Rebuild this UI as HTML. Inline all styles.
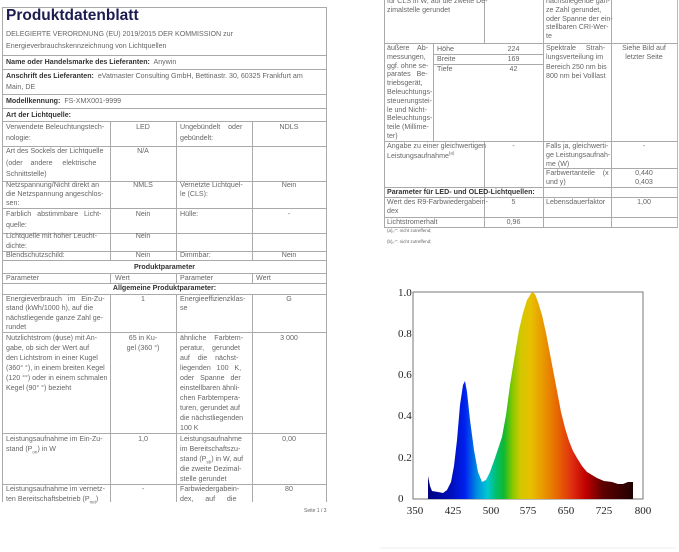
<!DOCTYPE html>
<html><head><meta charset="utf-8">
<style>
*{margin:0;padding:0;box-sizing:border-box}
body{width:679px;height:552px;background:#fff;position:relative;overflow:hidden;font-family:"Liberation Sans",sans-serif;color:#666;font-size:7.1px;line-height:12px}
.h{position:absolute;height:1px;background:#aaa}
.v{position:absolute;width:1px;background:#aaa}
.t{position:absolute;white-space:nowrap}
.c{text-align:center}
.b{font-weight:bold;color:#333}
sub,sup{font-size:4.5px;line-height:0}
</style></head><body>
<!-- LEFT PAGE -->
<div class="h" style="left:2px;top:7px;width:325px"></div>
<div class="v" style="left:2px;top:7px;height:495px"></div>
<div class="v" style="left:326px;top:7px;height:495px"></div>
<div class="t" style="left:6px;top:6px;font-size:15.5px;line-height:20px;font-weight:bold;color:#1c1c50">Produktdatenblatt</div>
<div class="t" style="left:6px;top:28px">DELEGIERTE VERORDNUNG (EU) 2019/2015 DER KOMMISSION zur</div>
<div class="t" style="left:6px;top:40px">Energieverbrauchskennzeichnung von Lichtquellen</div>
<div class="h" style="left:2px;top:55px;width:325px"></div>
<div class="t" style="left:6px;top:56px"><span class="b">Name oder Handelsmarke des Lieferanten:</span>&nbsp; Anywin</div>
<div class="h" style="left:2px;top:69px;width:325px"></div>
<div class="t" style="left:6px;top:70px"><span class="b">Anschrift des Lieferanten:</span>&nbsp; eVatmaster Consulting GmbH, Bettinastr. 30, 60325 Frankfurt am</div>
<div class="t" style="left:6px;top:81px">Main, DE</div>
<div class="h" style="left:2px;top:94px;width:325px"></div>
<div class="t" style="left:6px;top:95px"><span class="b">Modellkennung:</span>&nbsp; FS-XMX001-9999</div>
<div class="h" style="left:2px;top:108px;width:325px"></div>
<div class="t b" style="left:6px;top:109px">Art der Lichtquelle:</div>
<div class="h" style="left:2px;top:121px;width:325px"></div>
<div class="v" style="left:110px;top:121px;height:139px"></div>
<div class="v" style="left:176px;top:121px;height:139px"></div>
<div class="v" style="left:252px;top:121px;height:139px"></div>
<div class="t" style="left:6px;top:122px;line-height:11px">Verwendete Beleuchtungstech-<br>nologie:</div>
<div class="t c" style="left:110px;top:122px;width:66px;line-height:11px">LED</div>
<div class="t" style="left:180px;top:122px;line-height:11px">Ungebündelt &nbsp;&nbsp; oder<br>gebündelt:</div>
<div class="t c" style="left:252px;top:122px;width:74px;line-height:11px">NDLS</div>
<div class="h" style="left:2px;top:146px;width:325px"></div>
<div class="t" style="left:6px;top:146px;line-height:11.5px">Art des Sockels der Lichtquelle<br>(oder &nbsp;&nbsp; andere &nbsp;&nbsp;&nbsp; elektrische<br>Schnittstelle)</div>
<div class="t c" style="left:110px;top:146px;width:66px;line-height:11px">N/A</div>
<div class="h" style="left:2px;top:181px;width:325px"></div>
<div class="t" style="left:6px;top:181px;line-height:9.2px">Netzspannung/Nicht direkt an<br>die Netzspannung angeschlos-<br>sen:</div>
<div class="t c" style="left:110px;top:181px;width:66px;line-height:9.2px">NMLS</div>
<div class="t" style="left:180px;top:181px;line-height:9.2px">Vernetzte Lichtquel-<br>le (CLS):</div>
<div class="t c" style="left:252px;top:181px;width:74px;line-height:9.2px">Nein</div>
<div class="h" style="left:2px;top:208px;width:325px"></div>
<div class="t" style="left:6px;top:209px;line-height:11px">Farblich &nbsp; abstimmbare &nbsp; Licht-<br>quelle:</div>
<div class="t c" style="left:110px;top:209px;width:66px;line-height:11px">Nein</div>
<div class="t" style="left:180px;top:209px;line-height:11px">Hülle:</div>
<div class="t c" style="left:252px;top:209px;width:74px;line-height:11px">-</div>
<div class="h" style="left:2px;top:233px;width:325px"></div>
<div class="t" style="left:6px;top:232px;line-height:9.5px">Lichtquelle mit hoher Leucht-<br>dichte:</div>
<div class="t c" style="left:110px;top:232px;width:66px;line-height:9.5px">Nein</div>
<div class="h" style="left:2px;top:251px;width:325px"></div>
<div class="t" style="left:6px;top:250px;line-height:10px">Blendschutzschild:</div>
<div class="t c" style="left:110px;top:250px;width:66px;line-height:10px">Nein</div>
<div class="t" style="left:180px;top:250px;line-height:10px">Dimmbar:</div>
<div class="t c" style="left:252px;top:250px;width:74px;line-height:10px">Nein</div>
<div class="h" style="left:2px;top:260px;width:325px"></div>
<div class="t c b" style="left:2px;top:261px;width:325px;line-height:12px">Produktparameter</div>
<div class="h" style="left:2px;top:273px;width:325px"></div>
<div class="v" style="left:110px;top:273px;height:10px"></div>
<div class="v" style="left:176px;top:273px;height:10px"></div>
<div class="v" style="left:252px;top:273px;height:10px"></div>
<div class="t" style="left:6px;top:273px;line-height:10px">Parameter</div>
<div class="t" style="left:115px;top:273px;line-height:10px">Wert</div>
<div class="t" style="left:180px;top:273px;line-height:10px">Parameter</div>
<div class="t" style="left:256px;top:273px;line-height:10px">Wert</div>
<div class="h" style="left:2px;top:283px;width:325px"></div>
<div class="t c b" style="left:2px;top:283px;width:325px;line-height:11px">Allgemeine Produktparameter:</div>
<div class="h" style="left:2px;top:294px;width:325px"></div>
<div class="v" style="left:110px;top:294px;height:208px"></div>
<div class="v" style="left:176px;top:294px;height:208px"></div>
<div class="v" style="left:252px;top:294px;height:208px"></div>
<div class="t" style="left:6px;top:295px;line-height:9.3px">Energieverbrauch &nbsp; im &nbsp; Ein-Zu-<br>stand (kWh/1000 h), auf die<br>nächstliegende ganze Zahl ge-<br>rundet</div>
<div class="t c" style="left:110px;top:295px;width:66px;line-height:9.3px">1</div>
<div class="t" style="left:180px;top:295px;line-height:9.3px">Energieeffizienzklas-<br>se</div>
<div class="t c" style="left:252px;top:295px;width:74px;line-height:9.3px">G</div>
<div class="h" style="left:2px;top:332px;width:325px"></div>
<div class="t" style="left:6px;top:333px;line-height:10px">Nutzlichtstrom (ϕuse) mit An-<br>gabe, ob sich der Wert auf<br>den Lichtstrom in einer Kugel<br>(360° °), in einem breiten Kegel<br>(120 °°) oder in einem schmalen<br>Kegel (90° °) bezieht</div>
<div class="t c" style="left:110px;top:333px;width:66px;line-height:10px">65 in Ku-<br>gel (360 °)</div>
<div class="t" style="left:180px;top:333px;line-height:10px">ähnliche &nbsp;&nbsp; Farbtem-<br>peratur, &nbsp;&nbsp; gerundet<br>auf &nbsp;&nbsp; die &nbsp;&nbsp; nächst-<br>liegenden &nbsp; 100 &nbsp; K,<br>oder &nbsp; Spanne &nbsp; der<br>einstellbaren ähnli-<br>chen Farbtempera-<br>turen, gerundet auf<br>die nächstliegenden<br>100 K</div>
<div class="t c" style="left:252px;top:333px;width:74px;line-height:10px">3 000</div>
<div class="h" style="left:2px;top:433px;width:325px"></div>
<div class="t" style="left:6px;top:434px;line-height:10px">Leistungsaufnahme im Ein-Zu-<br>stand (P<sub>on</sub>) in W</div>
<div class="t c" style="left:110px;top:434px;width:66px;line-height:10px">1,0</div>
<div class="t" style="left:180px;top:434px;line-height:10px">Leistungsaufnahme<br>im Bereitschaftszu-<br>stand (P<sub>sb</sub>) in W, auf<br>die zweite Dezimal-<br>stelle gerundet</div>
<div class="t c" style="left:252px;top:434px;width:74px;line-height:10px">0,00</div>
<div class="h" style="left:2px;top:484px;width:325px"></div>
<div class="t" style="left:6px;top:485px;line-height:9.5px">Leistungsaufnahme im vernetz-<br>ten Bereitschaftsbetrieb (P<sub>net</sub>)</div>
<div class="t c" style="left:110px;top:485px;width:66px;line-height:9.5px">-</div>
<div class="t" style="left:180px;top:485px;line-height:9.5px">Farbwiedergabein-<br>dex, &nbsp;&nbsp;&nbsp;&nbsp; auf &nbsp;&nbsp;&nbsp;&nbsp; die</div>
<div class="t c" style="left:252px;top:485px;width:74px;line-height:9.5px">80</div>
<div class="t" style="left:304px;top:505px;font-size:5px">Seite 1 / 3</div>

<!-- RIGHT PAGE -->
<div class="v" style="left:384px;top:0;height:228px"></div>
<div class="v" style="left:677px;top:0;height:228px;background:#bbb"></div>
<div class="v" style="left:484px;top:0;height:43px"></div>
<div class="v" style="left:543px;top:0;height:228px"></div>
<div class="v" style="left:611px;top:0;height:228px"></div>
<div class="t" style="left:387px;top:-3px;line-height:9px">für CLS in W, auf die zweite De-<br>zimalstelle gerundet</div>
<div class="t" style="left:546px;top:-3px;line-height:8.8px">nächstliegende gan-<br>ze Zahl gerundet,<br>oder Spanne der ein-<br>stellbaren CRI-Wer-<br>te</div>
<div class="h" style="left:384px;top:43px;width:294px"></div>
<div class="v" style="left:433px;top:43px;height:98px"></div>
<div class="t" style="left:387px;top:44px;line-height:8.8px">äußere &nbsp;&nbsp; Ab-<br>messungen,<br>ggf. ohne se-<br>parates &nbsp; Be-<br>triebsgerät,<br>Beleuchtungs-<br>steuerungstei-<br>le und Nicht-<br>Beleuchtungs-<br>teile (Millime-<br>ter)</div>
<div class="t" style="left:437px;top:44px;line-height:10px">Höhe<br>Breite<br>Tiefe</div>
<div class="t c" style="left:484px;top:44px;width:59px;line-height:10px">224<br>169<br>42</div>
<div class="h" style="left:433px;top:54px;width:110px"></div>
<div class="h" style="left:433px;top:64px;width:110px"></div>
<div class="t" style="left:546px;top:44px;line-height:9.3px">Spektrale &nbsp;&nbsp;&nbsp; Strah-<br>lungsverteilung im<br>Bereich 250 nm bis<br>800 nm bei Volllast</div>
<div class="t c" style="left:611px;top:44px;width:66px;line-height:9.3px">Siehe Bild auf<br>letzter Seite</div>
<div class="h" style="left:384px;top:141px;width:294px"></div>
<div class="v" style="left:484px;top:141px;height:87px"></div>
<div class="t" style="left:387px;top:142px;line-height:9.5px">Angabe zu einer gleichwertigen<br>Leistungsaufnahme<sup>(a)</sup></div>
<div class="t c" style="left:484px;top:142px;width:59px;line-height:9.5px">-</div>
<div class="t" style="left:546px;top:142px;line-height:8.8px">Falls ja, gleichwerti-<br>ge Leistungsaufnah-<br>me (W)</div>
<div class="t c" style="left:611px;top:142px;width:66px;line-height:9.5px">-</div>
<div class="h" style="left:543px;top:168px;width:135px"></div>
<div class="t" style="left:546px;top:169px;line-height:9px">Farbwertanteile &nbsp;&nbsp; (x<br>und y)</div>
<div class="t c" style="left:611px;top:169px;width:66px;line-height:9px">0,440<br>0,403</div>
<div class="h" style="left:384px;top:187px;width:294px"></div>
<div class="t b" style="left:387px;top:187px;line-height:10px">Parameter für LED- und OLED-Lichtquellen:</div>
<div class="h" style="left:384px;top:197px;width:294px"></div>
<div class="t" style="left:387px;top:198px;line-height:9px">Wert des R9-Farbwiedergabein-<br>dex</div>
<div class="t c" style="left:484px;top:198px;width:59px;line-height:9px">5</div>
<div class="t" style="left:546px;top:198px;line-height:9px">Lebensdauerfaktor</div>
<div class="t c" style="left:611px;top:198px;width:66px;line-height:9px">1,00</div>
<div class="h" style="left:384px;top:217px;width:294px"></div>
<div class="t" style="left:387px;top:217px;line-height:10px">Lichtstromerhalt</div>
<div class="t c" style="left:484px;top:217px;width:59px;line-height:10px">0,96</div>
<div class="h" style="left:384px;top:227px;width:294px"></div>
<div class="t" style="left:387px;top:225px;font-size:4.5px">(a)„-": nicht zutreffend;</div>
<div class="t" style="left:387px;top:236px;font-size:4.5px">(b)„-": nicht zutreffend;</div>

<!-- SPECTRUM -->
<svg style="position:absolute;left:0;top:0" width="679" height="552">
<defs>
<linearGradient id="g" gradientUnits="userSpaceOnUse" x1="428" y1="0" x2="633" y2="0">
<stop offset="0" stop-color="#000080"/>
<stop offset="0.12" stop-color="#0010c0"/>
<stop offset="0.18" stop-color="#0020f0"/>
<stop offset="0.24" stop-color="#0090e0"/>
<stop offset="0.29" stop-color="#00c8d0"/>
<stop offset="0.33" stop-color="#00c070"/>
<stop offset="0.37" stop-color="#10b830"/>
<stop offset="0.41" stop-color="#80c800"/>
<stop offset="0.45" stop-color="#d0c800"/>
<stop offset="0.5" stop-color="#e8c000"/>
<stop offset="0.55" stop-color="#e8a000"/>
<stop offset="0.62" stop-color="#e87000"/>
<stop offset="0.7" stop-color="#e03010"/>
<stop offset="0.77" stop-color="#c00000"/>
<stop offset="0.85" stop-color="#600000"/>
<stop offset="1" stop-color="#200000"/>
</linearGradient>
</defs>
<rect x="413" y="292" width="230" height="207" fill="none" stroke="#777" stroke-width="1"/>
<path fill="url(#g)" d="M428,499 L428,476 L430,486 L432,491 L438,492 L443,493 L447,490 L451,482 L454,466 L457,440 L460,405 L463,385 L465,381 L467,392 L470,420 L474,450 L478,472 L482,482 L486,480 L490,472 L495,458 L502,437 L506,415 L510,385 L515,354 L519,330 L523,313 L527,300 L532,292 L535,294 L538,302 L542,315 L546,333 L550,354 L554,375 L558,396 L561,412 L565,428 L569,441 L573,451 L577,458 L582,466 L587,472 L592,475 L597,478 L604,481 L612,482 L618,484 L623,484 L628,482 L633,482 L633,499 Z"/>
<g font-family="Liberation Serif,serif" font-size="11" fill="#222">
<text x="398" y="296">1.0</text><text x="398" y="337">0.8</text><text x="398" y="378">0.6</text><text x="398" y="419">0.4</text><text x="398" y="461">0.2</text><text x="398" y="502">0</text>
<text x="415" y="514" text-anchor="middle">350</text><text x="453" y="514" text-anchor="middle">425</text><text x="491" y="514" text-anchor="middle">500</text><text x="528" y="514" text-anchor="middle">575</text><text x="566" y="514" text-anchor="middle">650</text><text x="604" y="514" text-anchor="middle">725</text><text x="643" y="514" text-anchor="middle">800</text>
</g>
<line x1="380" y1="548" x2="676" y2="548" stroke="#eee"/>
</svg>
</body></html>
